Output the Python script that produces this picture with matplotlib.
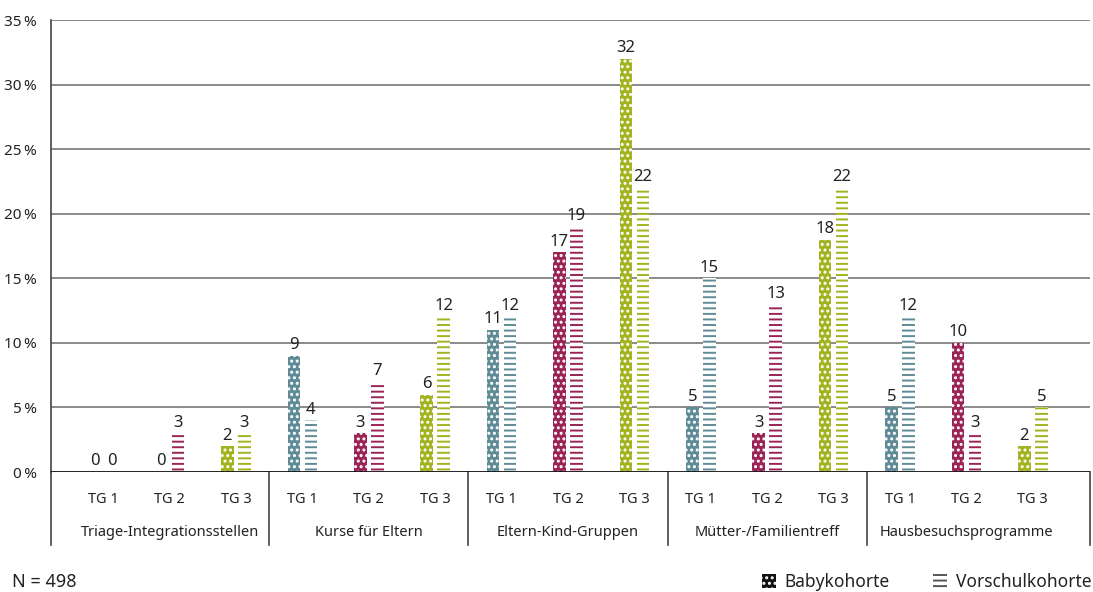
import numpy as np
import matplotlib
matplotlib.use("Agg")
import matplotlib.pyplot as plt
from matplotlib.patches import Patch
from matplotlib.lines import Line2D

plt.rcParams['font.family'] = ['Noto Sans', 'DejaVu Sans']
plt.rcParams['hatch.linewidth'] = 1.4

# Data (percent)
categories = ['Triage-Integrationsstellen', 'Kurse für Eltern', 'Eltern-Kind-Gruppen',
              'Mütter-/Familientreff', 'Hausbesuchsprogramme']
groups = ['TG 1', 'TG 2', 'TG 3']
baby = [[0, 0, 2], [9, 3, 6], [11, 17, 32], [5, 3, 18], [5, 10, 2]]
vorschul = [[0, 3, 3], [4, 7, 12], [12, 19, 22], [15, 13, 22], [12, 3, 5]]
yticks = [0, 5, 10, 15, 20, 25, 30, 35]
n_label = 'N = 498'

colors = ['#5f8b96', '#9b2456', '#a2b31f']

fig = plt.figure(figsize=(10.93, 5.92), dpi=100)
ax = fig.add_axes([51 / 1093, 120 / 592, (1090 - 51) / 1093, 452 / 592])

w = 0.19
off = 0.128
text_col = '#222222'
for ci, cat in enumerate(categories):
    for gi, g in enumerate(groups):
        x = ci * 3 + gi
        b = baby[ci][gi]
        v = vorschul[ci][gi]
        ax.bar(x - off, b, width=w, facecolor=colors[gi], edgecolor='white',
               hatch='...', linewidth=0, zorder=3)
        ax.bar(x + off, v, width=w, facecolor='white', edgecolor=colors[gi],
               hatch='---', linewidth=0, zorder=3)
        ax.text(x - off, b + 0.2, str(b), ha='center', va='bottom',
                fontsize=12, color=text_col, zorder=4)
        ax.text(x + off, v + 0.2, str(v), ha='center', va='bottom',
                fontsize=12, color=text_col, zorder=4)
        ax.text(x, -0.06, g, transform=ax.get_xaxis_transform(), ha='center',
                va='center', fontsize=10.5, color=text_col)
    ax.text(ci * 3 + 1, -0.133, cat, transform=ax.get_xaxis_transform(),
            ha='center', va='center', fontsize=10.5, color=text_col)

# separators below the axis
trans = ax.get_xaxis_transform()
for sx in [2.5, 5.5, 8.5, 11.5]:
    ax.add_line(Line2D([sx, sx], [0, -0.161], transform=trans, color='#444444',
                       lw=1.2, clip_on=False))
for ax_x in [0, 1]:
    ax.add_line(Line2D([ax_x, ax_x], [0, -0.161], transform=ax.transAxes,
                       color='#444444', lw=1.2, clip_on=False))

ax.set_xlim(-0.5 - 19 / 66.5, 14.5 + 24 / 66.5)
ax.set_ylim(0, 35)
ax.set_yticks(yticks)
ax.set_yticklabels([f'{t}\u2009%' for t in yticks], fontsize=11, color=text_col)
ax.set_xticks([])
ax.tick_params(axis='y', length=0, pad=10)
for t in yticks[1:]:
    ax.axhline(t, color='#777777', lw=1.2, zorder=1)
ax.axhline(0, color='#111111', lw=1.3, zorder=5)
for s in ['top', 'right', 'bottom']:
    ax.spines[s].set_visible(False)
ax.spines['left'].set_color('#444444')
ax.spines['left'].set_linewidth(1.2)

fig.text(12 / 1093, 1 - 582 / 592, n_label, ha='left', va='center', fontsize=13,
         color=text_col)

handles = [Patch(facecolor='#111111', edgecolor='white', hatch='...', linewidth=0),
           Patch(facecolor='white', edgecolor='#555555', hatch='---', linewidth=0)]
fig.legend(handles, ['Babykohorte', 'Vorschulkohorte'], loc='center right',
           bbox_to_anchor=(1.0, 1 - 582 / 592), ncol=2, frameon=False,
           fontsize=12.5, handlelength=0.8, handleheight=0.8, handletextpad=0.5,
           columnspacing=2.5, borderaxespad=0.0, borderpad=0.1, labelcolor=text_col)

fig.savefig('out.png', dpi=100)
